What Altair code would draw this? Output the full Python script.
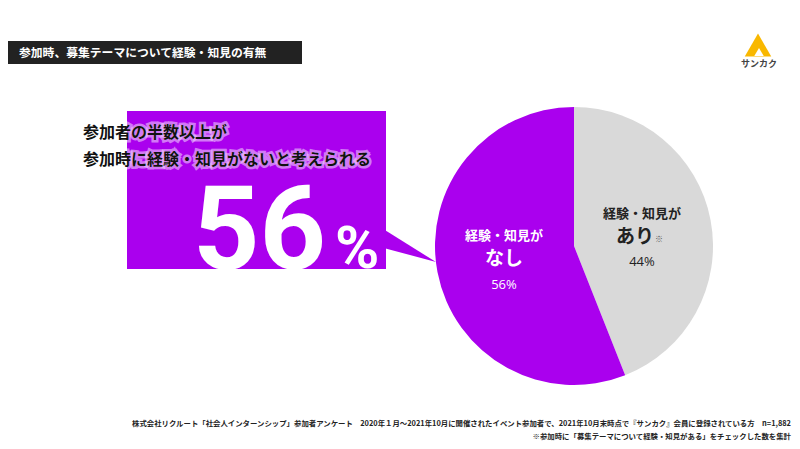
import altair as alt
import pandas as pd

# ---- data ----
categories = ["経験・知見があり", "経験・知見がなし"]
values = [44, 56]
orders = [0, 1]
colors = ["#D9D9D9", "#AA00EE"]

title_text = "参加時、募集テーマについて経験・知見の有無"
headline_lines = ["参加者の半数以上が", "参加時に経験・知見がないと考えられる"]
big_number = "56"
footnote1 = "株式会社リクルート「社会人インターンシップ」参加者アンケート　2020年１月～2021年10月に開催されたイベント参加者で、2021年10月末時点で『サンカク』会員に登録されている方　n=1,882"
footnote2 = "※参加時に「募集テーマについて経験・知見がある」をチェックした数を集計"
logo_text = "サンカク"

JP = "Noto Sans CJK JP"
NUM = "Roboto, sans-serif"
O = 8  # page margin offset

pie_df = pd.DataFrame({"category": categories, "value": values, "order": orders})
one = pd.DataFrame({"a": [0]})
base = alt.Chart(one)

def txt(text, x, y, size, color="#000", weight="bold", align="center", baseline="middle", font=JP, **kw):
    return base.mark_text(text=text, fontSize=size, color=color, fontWeight=weight, align=align,
                          baseline=baseline, font=font, **kw).encode(
        x=alt.value(x - O), y=alt.value(y - O))

layers = []

# purple box
layers.append(base.mark_rect(color="#AA00EE").encode(
    x=alt.value(127 - O), x2=alt.value(386 - O), y=alt.value(111 - O), y2=alt.value(269 - O)))

# callout triangle (custom symbol)
tri_path = "M -1 -0.64 L 1 0.607 L -1 0.07 Z"
layers.append(base.mark_point(shape=tri_path, filled=True, color="#AA00EE", opacity=1, size=3136).encode(
    x=alt.value(408 - O), y=alt.value(245 - O)))

# headline with white glow
for i, line in enumerate(headline_lines):
    y = 133 + i * 27
    layers.append(txt(line, 83, y, 16, color="white", align="left", stroke="white",
                      strokeWidth=5, strokeOpacity=0.6, opacity=0.8))
    layers.append(txt(line, 83, y, 16, color="#111", align="left"))

# big 56 %
layers.append(txt(big_number, 326, 269, 116, color="white", align="right", baseline="alphabetic", font=NUM))
layers.append(txt("%", 335, 268, 60, color="white", align="left", baseline="alphabetic", font=NUM))

# pie
layers.append(alt.Chart(pie_df).mark_arc(outerRadius=139).encode(
    theta=alt.Theta("value:Q", stack=True),
    color=alt.Color("category:N", scale=alt.Scale(domain=categories, range=colors), legend=None),
    order=alt.Order("order:Q"),
    x=alt.value(574 - O), y=alt.value(246 - O)))

# pie labels
layers.append(txt("経験・知見が", 504, 236, 13, color="white"))
layers.append(txt("なし", 504, 259, 19, color="white"))
layers.append(txt(f"{values[1]}%", 504, 285, 13, color="white", weight="normal", font="Open Sans"))
layers.append(txt("経験・知見が", 642, 214, 13, color="#222"))
layers.append(txt("あり", 635, 237, 19, color="#222"))
layers.append(txt("※", 659, 240, 8, color="#555", weight="normal"))
layers.append(txt(f"{values[0]}%", 642, 262, 13, color="#222", weight="normal", font="Open Sans"))

# title bar
layers.append(base.mark_rect(color="#222222").encode(
    x=alt.value(0), x2=alt.value(302 - O), y=alt.value(41 - O), y2=alt.value(64 - O)))
layers.append(txt(title_text, 19, 53, 11.8, color="white", align="left"))

# logo
layers.append(base.mark_point(shape="triangle-up", filled=True, color="#F9B800", opacity=1, size=700).encode(
    x=alt.value(758 - O), y=alt.value(45 - O)))
layers.append(base.mark_point(shape="triangle-up", filled=True, color="white", opacity=1, size=90).encode(
    x=alt.value(759 - O), y=alt.value(52 - O)))
layers.append(txt(logo_text, 759, 64, 9, color="#444"))

# footnotes
layers.append(txt(footnote1, 791, 424, 7.4, color="#222", align="right"))
layers.append(txt(footnote2, 791, 437, 7.4, color="#222", align="right"))

chart = alt.layer(*layers).properties(
    width=784, height=433, padding=0, autosize=alt.AutoSizeParams(type="none"),
    background="white"
).configure_view(stroke=None)

chart.save("out.html", embed_options={"renderer": "svg", "actions": False})
